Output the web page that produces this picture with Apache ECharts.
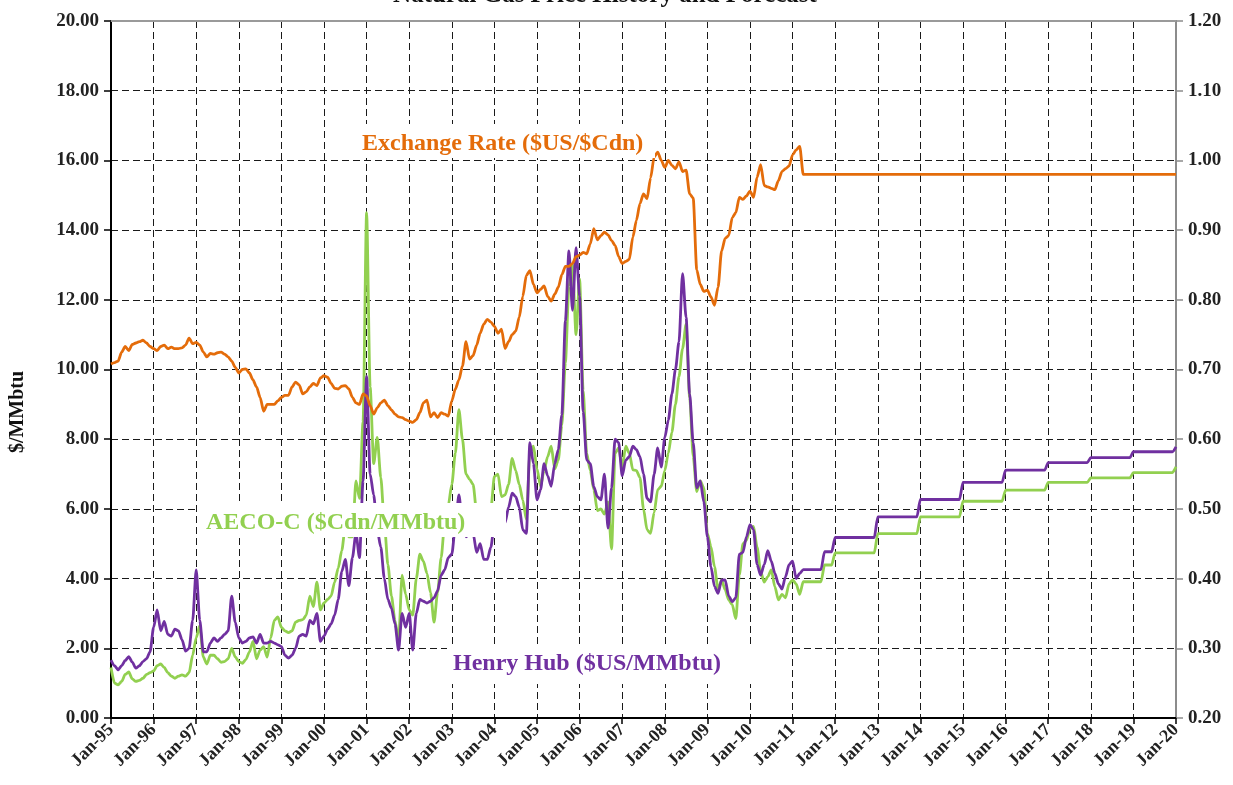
<!DOCTYPE html>
<html>
<head>
<meta charset="utf-8">
<script src="https://cdn.jsdelivr.net/npm/echarts@6/dist/echarts.min.js"></script>
<style>
html,body{margin:0;padding:0;background:#ffffff;}
#chart{width:1233px;height:785px;}
</style>
</head>
<body>
<div id="chart"></div>
<script>
// ---------- data ----------
const monthNames = ['Jan','Feb','Mar','Apr','May','Jun','Jul','Aug','Sep','Oct','Nov','Dec'];
const years = [1995,1996,1997,1998,1999,2000,2001,2002,2003,2004,2005,2006,2007,2008,2009,2010,2011,2012,2013,2014,2015,2016,2017,2018,2019,2020];
const tickLabels = ['Jan-95','Jan-96','Jan-97','Jan-98','Jan-99','Jan-00','Jan-01','Jan-02','Jan-03','Jan-04','Jan-05','Jan-06','Jan-07','Jan-08','Jan-09','Jan-10','Jan-11','Jan-12','Jan-13','Jan-14','Jan-15','Jan-16','Jan-17','Jan-18','Jan-19','Jan-20'];
const leftTicks = [0,2,4,6,8,10,12,14,16,18,20];
const rightTicks = [0.2,0.3,0.4,0.5,0.6,0.7,0.8,0.9,1.0,1.1,1.2];

// Henry Hub ($US/MMbtu), monthly Jan-95 .. Jan-20
const henryHub = [
  1.66,1.50,1.38,1.50,1.65,1.76,1.60,1.43,1.50,1.62,1.70,1.90,   // 1995
  2.60,3.10,2.50,2.77,2.40,2.35,2.55,2.50,2.25,1.92,2.00,2.80,   // 1996
  4.25,2.80,1.90,1.90,2.15,2.30,2.20,2.30,2.40,2.50,3.50,2.75,   // 1997
  2.30,2.15,2.20,2.30,2.33,2.15,2.40,2.15,2.15,2.20,2.15,2.10,   // 1998
  2.05,1.80,1.72,1.80,2.00,2.35,2.40,2.35,2.80,2.70,3.00,2.20,   // 1999
  2.35,2.55,2.70,2.95,3.40,4.20,4.55,3.80,4.60,5.30,4.60,6.80,   // 2000
  9.80,7.00,6.40,5.40,4.90,4.00,3.40,3.15,2.70,1.95,3.00,2.60,   // 2001
  3.00,1.95,3.00,3.40,3.35,3.30,3.35,3.45,3.65,4.10,4.25,4.60,   // 2002
  4.70,5.50,6.40,5.60,5.20,5.30,5.30,4.75,5.00,4.55,4.55,4.90,   // 2003
  5.60,5.70,5.30,5.60,6.05,6.45,6.35,6.05,5.40,5.30,7.90,7.30,   // 2004
  6.26,6.55,7.30,6.95,6.65,7.30,7.70,8.70,11.40,13.40,11.70,13.50, // 2005
  12.10,8.80,7.40,7.30,6.64,6.35,6.26,7.00,5.45,6.60,8.00,7.90,  // 2006
  6.95,7.40,7.50,7.80,7.70,7.50,7.00,6.30,6.20,7.00,7.75,7.20,   // 2007
  8.05,8.55,9.30,10.00,10.80,12.75,11.50,9.30,7.90,6.60,6.80,6.20, // 2008
  5.20,4.34,3.77,3.58,3.96,3.96,3.50,3.34,3.45,4.70,4.75,5.20,   // 2009
  5.55,5.40,4.40,4.10,4.40,4.80,4.50,4.15,3.85,3.70,4.05,4.40,   // 2010
  4.50,4.00,4.15,4.26,4.26,4.26,4.26,4.26,4.26,4.77,4.77,4.77,   // 2011
  5.18,5.18,5.18,5.18,5.18,5.18,5.18,5.18,5.18,5.18,5.18,5.18,   // 2012
  5.77,5.77,5.77,5.77,5.77,5.77,5.77,5.77,5.77,5.77,5.77,5.77,   // 2013
  6.27,6.27,6.27,6.27,6.27,6.27,6.27,6.27,6.27,6.27,6.27,6.27,   // 2014
  6.76,6.76,6.76,6.76,6.76,6.76,6.76,6.76,6.76,6.76,6.76,6.76,   // 2015
  7.11,7.11,7.11,7.11,7.11,7.11,7.11,7.11,7.11,7.11,7.11,7.11,   // 2016
  7.33,7.33,7.33,7.33,7.33,7.33,7.33,7.33,7.33,7.33,7.33,7.33,   // 2017
  7.47,7.47,7.47,7.47,7.47,7.47,7.47,7.47,7.47,7.47,7.47,7.47,   // 2018
  7.64,7.64,7.64,7.64,7.64,7.64,7.64,7.64,7.64,7.64,7.64,7.64,   // 2019
  7.78                                                            // Jan-20
];

// AECO-C ($Cdn/MMbtu), monthly Jan-95 .. Jan-20
const aecoC = [
  1.45,1.00,0.95,1.05,1.25,1.32,1.12,1.05,1.08,1.14,1.25,1.30,   // 1995
  1.35,1.50,1.55,1.45,1.30,1.20,1.14,1.20,1.24,1.20,1.30,1.80,   // 1996
  2.30,2.65,1.75,1.55,1.80,1.80,1.70,1.60,1.62,1.70,2.00,1.75,   // 1997
  1.62,1.57,1.68,1.90,2.20,1.70,1.95,2.05,1.75,2.30,2.80,2.90,   // 1998
  2.60,2.50,2.45,2.50,2.75,2.80,2.82,2.95,3.50,3.20,3.90,3.10,   // 1999
  3.30,3.40,3.50,3.90,4.30,4.80,5.50,5.20,5.20,6.80,6.30,8.50,   // 2000
  14.50,9.50,7.30,8.05,6.90,5.60,4.40,3.50,2.80,2.20,4.10,3.55,  // 2001
  3.10,2.95,4.00,4.70,4.50,4.15,3.60,2.75,3.60,4.60,5.60,6.10,   // 2002
  6.70,7.60,8.85,8.00,7.00,6.85,6.70,5.90,5.60,5.50,5.60,6.00,   // 2003
  6.93,7.00,6.35,6.40,6.70,7.45,7.10,6.70,6.25,5.70,7.60,7.80,   // 2004
  7.15,6.65,7.10,7.50,7.80,7.15,7.40,8.40,10.20,12.40,13.00,11.00, // 2005
  12.60,9.40,7.60,7.10,6.55,5.95,6.00,5.85,6.20,4.85,7.60,7.75,  // 2006
  7.20,7.80,7.60,7.12,7.10,6.90,6.00,5.40,5.30,5.90,6.55,6.65,   // 2007
  7.10,7.60,8.20,9.00,9.80,10.60,11.30,9.20,7.50,6.50,6.80,6.60, // 2008
  5.30,4.92,4.34,3.68,3.96,3.68,3.39,3.25,2.85,4.10,5.00,5.10,   // 2009
  5.45,5.50,4.90,4.20,3.90,4.05,4.25,3.77,3.39,3.55,3.45,3.85,   // 2010
  3.96,3.85,3.55,3.91,3.91,3.91,3.91,3.91,3.91,4.39,4.39,4.39,   // 2011
  4.74,4.74,4.74,4.74,4.74,4.74,4.74,4.74,4.74,4.74,4.74,4.74,   // 2012
  5.29,5.29,5.29,5.29,5.29,5.29,5.29,5.29,5.29,5.29,5.29,5.29,   // 2013
  5.77,5.77,5.77,5.77,5.77,5.77,5.77,5.77,5.77,5.77,5.77,5.77,   // 2014
  6.22,6.22,6.22,6.22,6.22,6.22,6.22,6.22,6.22,6.22,6.22,6.22,   // 2015
  6.54,6.54,6.54,6.54,6.54,6.54,6.54,6.54,6.54,6.54,6.54,6.54,   // 2016
  6.76,6.76,6.76,6.76,6.76,6.76,6.76,6.76,6.76,6.76,6.76,6.76,   // 2017
  6.89,6.89,6.89,6.89,6.89,6.89,6.89,6.89,6.89,6.89,6.89,6.89,   // 2018
  7.04,7.04,7.04,7.04,7.04,7.04,7.04,7.04,7.04,7.04,7.04,7.04,   // 2019
  7.21                                                            // Jan-20
];

// Exchange rate ($US/$Cdn), monthly Jan-95 .. Jan-20 (right axis)
const exchangeRate = [
  0.708,0.710,0.712,0.725,0.733,0.727,0.736,0.738,0.740,0.742,0.738,0.733, // 1995
  0.730,0.727,0.733,0.735,0.730,0.732,0.730,0.730,0.731,0.735,0.745,0.737, // 1996
  0.739,0.735,0.725,0.718,0.723,0.722,0.724,0.725,0.722,0.718,0.712,0.703, // 1997
  0.695,0.700,0.701,0.695,0.685,0.675,0.660,0.640,0.650,0.650,0.650,0.655, // 1998
  0.660,0.663,0.663,0.675,0.682,0.678,0.665,0.668,0.675,0.680,0.677,0.688, // 1999
  0.691,0.689,0.680,0.673,0.672,0.676,0.677,0.672,0.660,0.652,0.650,0.665, // 2000
  0.662,0.648,0.636,0.645,0.652,0.656,0.648,0.642,0.636,0.632,0.631,0.628, // 2001
  0.626,0.624,0.628,0.638,0.652,0.656,0.632,0.638,0.631,0.638,0.636,0.633, // 2002
  0.655,0.672,0.685,0.705,0.740,0.715,0.720,0.735,0.752,0.765,0.772,0.768, // 2003
  0.762,0.752,0.758,0.730,0.740,0.750,0.755,0.775,0.805,0.835,0.842,0.822, // 2004
  0.810,0.815,0.820,0.805,0.798,0.808,0.818,0.836,0.848,0.848,0.852,0.862, // 2005
  0.864,0.868,0.866,0.880,0.902,0.886,0.892,0.897,0.893,0.885,0.878,0.862, // 2006
  0.852,0.855,0.858,0.890,0.914,0.938,0.952,0.945,0.975,1.005,1.012,1.000, // 2007
  0.990,1.000,0.993,0.988,0.998,0.984,0.986,0.952,0.946,0.843,0.822,0.812, // 2008
  0.814,0.804,0.792,0.818,0.870,0.888,0.892,0.918,0.925,0.947,0.944,0.949, // 2009
  0.956,0.947,0.976,0.994,0.964,0.962,0.960,0.958,0.971,0.984,0.988,0.992, // 2010
  1.008,1.015,1.020,0.980,0.980,0.980,0.980,0.980,0.980,0.980,0.980,0.980, // 2011
  0.980,0.980,0.980,0.980,0.980,0.980,0.980,0.980,0.980,0.980,0.980,0.980, // 2012
  0.980,0.980,0.980,0.980,0.980,0.980,0.980,0.980,0.980,0.980,0.980,0.980, // 2013
  0.980,0.980,0.980,0.980,0.980,0.980,0.980,0.980,0.980,0.980,0.980,0.980, // 2014
  0.980,0.980,0.980,0.980,0.980,0.980,0.980,0.980,0.980,0.980,0.980,0.980, // 2015
  0.980,0.980,0.980,0.980,0.980,0.980,0.980,0.980,0.980,0.980,0.980,0.980, // 2016
  0.980,0.980,0.980,0.980,0.980,0.980,0.980,0.980,0.980,0.980,0.980,0.980, // 2017
  0.980,0.980,0.980,0.980,0.980,0.980,0.980,0.980,0.980,0.980,0.980,0.980, // 2018
  0.980,0.980,0.980,0.980,0.980,0.980,0.980,0.980,0.980,0.980,0.980,0.980, // 2019
  0.980                                                                    // Jan-20
];

const seriesNames = ['AECO-C ($Cdn/MMbtu)', 'Henry Hub ($US/MMbtu)', 'Exchange Rate ($US/$Cdn)'];
const titleText = 'Natural Gas Price History and Forecast';
const yAxisName = '$/MMbtu';

// ---------- categories (month labels) ----------
const categories = [];
years.forEach(function (y) {
  const yy = String(y).slice(2);
  for (let m = 0; m < 12; m++) {
    if (y === 2020 && m > 0) break;
    categories.push(monthNames[m] + '-' + yy);
  }
});

// ---------- styles ----------
const FONT = "'Liberation Serif', 'DejaVu Serif', serif";
const C_GREEN = '#92D050';
const C_PURPLE = '#7030A0';
const C_ORANGE = '#E46C0A';
const GRID_DASH = { color: '#1a1a1a', width: 1, type: [7, 4] };

const chart = echarts.init(document.getElementById('chart'), null, { renderer: 'canvas' });

const option = {
  animation: false,
  backgroundColor: '#ffffff',
  grid: { left: 111, right: 57, top: 21, bottom: 67, containLabel: false, outerBoundsMode: 'none' },
  xAxis: [
    {
      type: 'category',
      data: categories,
      boundaryGap: false,
      axisLine: { show: true, lineStyle: { color: '#000', width: 2 } },
      axisTick: { show: true, interval: 11, length: 6, lineStyle: { color: '#000', width: 1.5 } },
      axisLabel: {
        interval: 11, rotate: 45, margin: 9,
        fontFamily: FONT, fontWeight: 'bold', fontSize: 18, color: '#222',
        formatter: function (v) { return tickLabels.indexOf(v) >= 0 ? v : ''; }
      },
      splitLine: { show: true, interval: 11, lineStyle: GRID_DASH }
    },
    {
      type: 'category',
      data: categories,
      boundaryGap: false,
      position: 'top',
      axisLine: { show: true, lineStyle: { color: '#9a9a9a', width: 2 } },
      axisTick: { show: false },
      axisLabel: { show: false },
      splitLine: { show: false }
    }
  ],
  yAxis: [
    {
      type: 'value',
      min: leftTicks[0], max: leftTicks[leftTicks.length - 1], interval: 2,
      axisLine: { show: true, lineStyle: { color: '#000', width: 2 } },
      axisTick: { show: true, length: 7, lineStyle: { color: '#000', width: 1.5 } },
      axisLabel: {
        margin: 12, fontFamily: FONT, fontWeight: 'bold', fontSize: 19, color: '#222',
        formatter: function (v) { return v.toFixed(2); }
      },
      splitLine: { show: true, lineStyle: GRID_DASH }
    },
    {
      type: 'value',
      min: rightTicks[0], max: rightTicks[rightTicks.length - 1], interval: 0.1,
      position: 'right',
      axisLine: { show: true, lineStyle: { color: '#8c8c8c', width: 2 } },
      axisTick: { show: true, length: 7, lineStyle: { color: '#8c8c8c', width: 1.5 } },
      axisLabel: {
        margin: 12, fontFamily: FONT, fontWeight: 'bold', fontSize: 19, color: '#222',
        formatter: function (v) { return v.toFixed(2); }
      },
      splitLine: { show: false }
    }
  ],
  series: [
    {
      name: seriesNames[0], type: 'line', data: aecoC, xAxisIndex: 0, yAxisIndex: 0,
      showSymbol: false, symbol: 'none', smooth: 0.25, smoothMonotone: 'x',
      lineStyle: { color: C_GREEN, width: 2.8 }, z: 3
    },
    {
      name: seriesNames[1], type: 'line', data: henryHub, xAxisIndex: 0, yAxisIndex: 0,
      showSymbol: false, symbol: 'none', smooth: 0.25, smoothMonotone: 'x',
      lineStyle: { color: C_PURPLE, width: 2.8 }, z: 4
    },
    {
      name: seriesNames[2], type: 'line', data: exchangeRate, xAxisIndex: 0, yAxisIndex: 1,
      showSymbol: false, symbol: 'none', smooth: 0.25, smoothMonotone: 'x',
      lineStyle: { color: C_ORANGE, width: 2.8 }, z: 5
    }
  ],
  graphic: [
    { type: 'text', z: 100, x: 605, y: -4,
      style: { text: titleText, fontFamily: FONT, fontWeight: 'bold', fontSize: 25, fill: '#111', textAlign: 'center', textVerticalAlign: 'middle' } },
    { type: 'text', z: 100, x: 18, y: 412, rotation: Math.PI / 2,
      style: { text: yAxisName, fontFamily: FONT, fontWeight: 'bold', fontSize: 20, fill: '#111', textAlign: 'center', textVerticalAlign: 'middle' } },
    { type: 'rect', z: 100, shape: { x: 355, y: 124, width: 300, height: 34 }, style: { fill: '#ffffff' } },
    { type: 'text', z: 101, x: 362, y: 144,
      style: { text: seriesNames[2], fontFamily: FONT, fontWeight: 'bold', fontSize: 24, fill: C_ORANGE, textAlign: 'left', textVerticalAlign: 'middle' } },
    { type: 'rect', z: 100, shape: { x: 197, y: 503, width: 309, height: 34 }, style: { fill: '#ffffff' } },
    { type: 'text', z: 101, x: 206, y: 523,
      style: { text: seriesNames[0], fontFamily: FONT, fontWeight: 'bold', fontSize: 24, fill: C_GREEN, textAlign: 'left', textVerticalAlign: 'middle' } },
    { type: 'rect', z: 100, shape: { x: 447, y: 647, width: 343, height: 37 }, style: { fill: '#ffffff' } },
    { type: 'text', z: 101, x: 453, y: 664,
      style: { text: seriesNames[1], fontFamily: FONT, fontWeight: 'bold', fontSize: 24, fill: C_PURPLE, textAlign: 'left', textVerticalAlign: 'middle' } }
  ]
};

chart.setOption(option);
</script>
</body>
</html>
